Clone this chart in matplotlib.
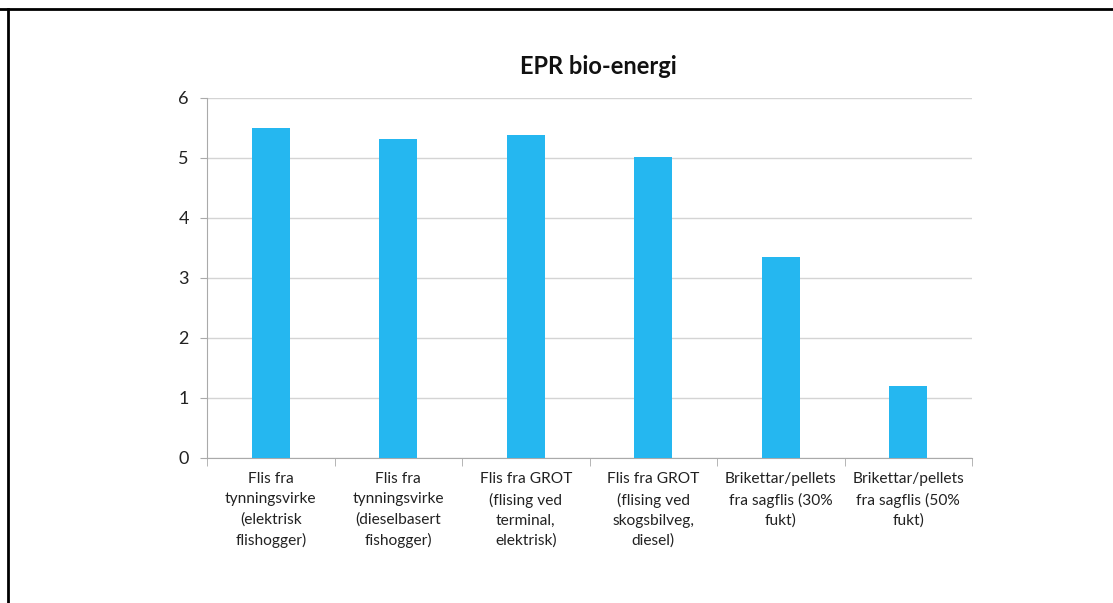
import matplotlib
matplotlib.use("Agg")
import matplotlib.pyplot as plt
from matplotlib.lines import Line2D
import numpy as np

plt.rcParams['font.family'] = ['Lato', 'DejaVu Sans']

# Data.
categories = [
    "Flis fra\ntynningsvirke\n(elektrisk\nflishogger)",
    "Flis fra\ntynningsvirke\n(dieselbasert\nfishogger)",
    "Flis fra GROT\n(flising ved\nterminal,\nelektrisk)",
    "Flis fra GROT\n(flising ved\nskogsbilveg,\ndiesel)",
    "Brikettar/pellets\nfra sagflis (30%\nfukt)",
    "Brikettar/pellets\nfra sagflis (50%\nfukt)",
]
values = [5.5, 5.32, 5.38, 5.02, 3.35, 1.2]
yticks = [0, 1, 2, 3, 4, 5, 6]
title = "EPR bio-energi"

bar_color = "#25B7F0"
grid_color = "#D4D4D4"

fig = plt.figure(figsize=(11.13, 6.03), dpi=100)
ax = fig.add_axes([207 / 1113, 1 - 458 / 603, (972 - 207) / 1113, (458 - 98) / 603])

x = np.arange(len(categories))
ax.bar(x, values, width=0.3, color=bar_color, zorder=3)

ax.set_xlim(-0.5, len(categories) - 0.5)
ax.set_ylim(0, 6)
ax.set_yticks(yticks)
ax.set_yticklabels([str(t) for t in yticks], fontsize=13, color="#222222")
ax.yaxis.grid(True, color=grid_color, linewidth=1, zorder=0)
ax.tick_params(axis='y', length=5, color="#AAAAAA", pad=8)

# Category labels between tick marks.
ax.set_xticks(x)
ax.set_xticklabels(categories, fontsize=11.2, color="#222222", linespacing=1.55)
ax.tick_params(axis='x', length=0, pad=10)
ax.set_xticks(np.arange(-0.5, len(categories)), minor=True)
ax.tick_params(axis='x', which='minor', length=6, color="#AAAAAA")

for side in ["top", "right"]:
    ax.spines[side].set_visible(False)
for side in ["left", "bottom"]:
    ax.spines[side].set_color("#AAAAAA")

fig.text(598 / 1113, 1 - 67 / 603, title, fontsize=17, fontweight='bold',
         ha='center', va='center', color="#111111")

# Page frame (top and left lines).
fig.add_artist(Line2D([0, 1], [1 - 9 / 603, 1 - 9 / 603], transform=fig.transFigure,
                      color="black", linewidth=2))
fig.add_artist(Line2D([8 / 1113, 8 / 1113], [0, 1 - 9 / 603], transform=fig.transFigure,
                      color="black", linewidth=2))

fig.savefig("out.png", dpi=100)
